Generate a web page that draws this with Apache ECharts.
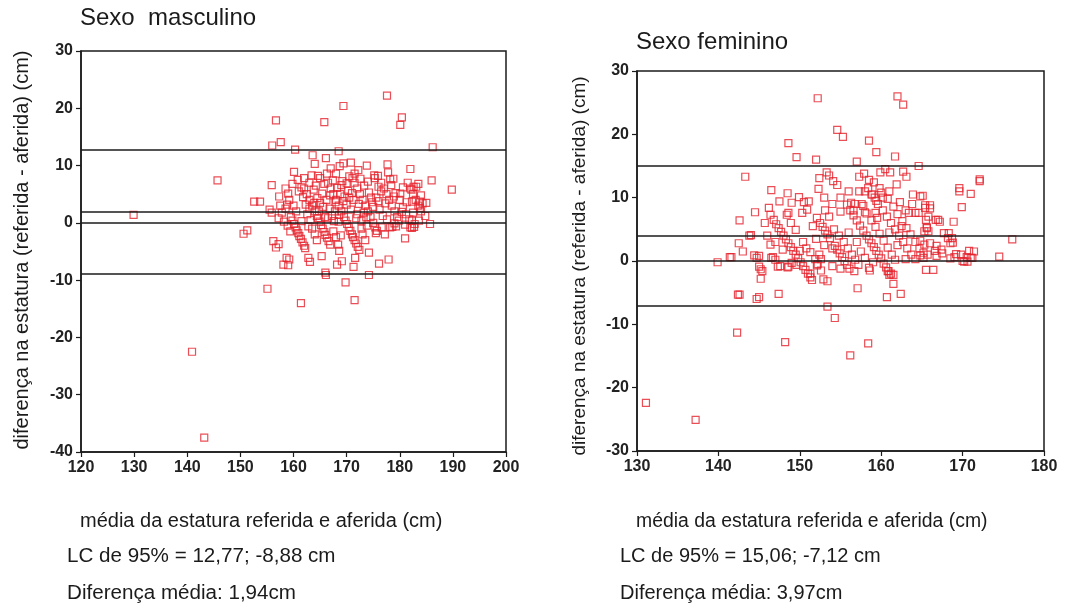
<!DOCTYPE html>
<html>
<head>
<meta charset="utf-8">
<script src="https://cdn.jsdelivr.net/npm/echarts@6/dist/echarts.min.js"></script>
<style>
  html, body { margin: 0; padding: 0; background: #fff; }
  #chart { width: 1066px; height: 607px; }
</style>
</head>
<body>
<div id="chart"></div>
<script>
// Bland-Altman: média (x) vs diferença referida - aferida (y), em cm
const malePoints = [
  [129.9,1.4],[140.9,-22.5],[143.2,-37.5],[145.7,7.4],[150.6,-1.9],[151.3,-1.3],[152.6,3.7],[153.7,3.7],
  [155.1,-11.5],[156.7,17.9],[165.8,17.6],[169.4,20.4],[177.6,22.2],[180.4,18.4],[180.1,17.1],[157.6,14.1],
  [156.0,13.5],[186.2,13.2],[160.3,12.8],[168.5,12.5],[163.6,11.8],[166.1,11.3],[177.7,10.2],[169.4,10.4],
  [168.7,9.9],[160.1,8.9],[172.2,9.2],[163.4,8.3],[164.6,8.2],[170.5,8.1],[171.1,7.8],[175.2,8.3],
  [175.3,7.8],[178.2,7.6],[186.0,7.4],[189.8,5.8],[155.9,6.6],[161.4,-14],[171.5,-13.5],[169.8,-10.4],
  [174.2,-9.1],[166.0,-8.7],[166.1,-9.1],[168.2,-7.3],[169.1,-6.7],[171.3,-7.7],[171.6,-6.1],[176.1,-7.1],
  [177.9,-6.4],[174.2,-5.2],[168.6,-4.9],[165.3,-5.8],[181.0,-2.7],[185.7,-0.2],[182.7,-0.7],[182.3,-0.9],
  [158.7,-6.1],[159.2,-6.4],[158.1,-7.3],[159.0,-7.4],[162.8,-6.1],[163.1,-6.8],[155.5,2.3],[155.9,1.8],
  [157.2,0.8],[156.2,-3.2],[157.2,-3.7],[156.7,-4.3],[157.3,4.6],
  [159.5,1.0],[159.8,0.4],[160.1,-0.2],[160.4,-0.8],[160.6,-1.3],[160.9,-1.8],[161.1,-2.3],[161.4,-2.8],
  [161.7,-3.4],[162.0,-4.0],[162.2,-4.4],
  [164.6,0.8],[164.9,0.2],[165.2,-0.4],[165.5,-1.0],[165.8,-1.6],[166.0,-2.1],[166.3,-2.6],[166.6,-3.2],
  [166.9,-3.8],[163.0,4.0],[162.5,5.0],[162.0,6.0],[163.5,3.0],[164.0,2.0],
  [169.5,1.0],[169.8,0.4],[170.1,-0.2],[170.4,-0.8],[170.7,-1.4],[171.0,-2.0],[171.2,-2.5],[171.5,-3.0],
  [171.8,-3.6],[172.1,-4.2],[172.4,-4.7],[166.5,7.0],[167.0,6.0],[167.5,5.0],[168.0,4.0],[168.5,3.0],[169.0,2.0],
  [171.5,7.0],[172.0,6.0],[172.5,5.0],[173.0,4.0],[173.5,3.0],[174.0,2.0],[174.5,1.0],[175.0,0.0],
  [175.4,-0.8],[175.7,-1.4],[175.5,-1.8],
  [175.9,8.2],[176.5,7.0],[177.0,6.0],[177.5,5.0],[178.0,4.0],[178.5,3.0],[179.0,2.0],[179.5,1.0],
  [179.8,0.4],[178.2,-0.8],[178.6,-0.7],[179.3,-0.6],
  [181.5,7.0],[182.0,6.0],[182.5,5.0],[183.0,4.0],[183.5,3.0],[184.0,2.0],[183.8,2.6],[182.2,5.8],[183.1,6.3],
  [158.5,2.5],[158.8,3.2],[159.2,4.0],[159.0,5.1],[160.0,3.0],[160.5,2.0],[161.0,5.5],[161.5,6.2],
  [161.8,4.5],[162.3,3.2],[162.6,1.5],[163.2,0.5],[163.8,5.8],[164.2,6.5],[164.5,4.3],[165.0,3.5],
  [165.4,5.1],[165.8,6.8],[166.2,4.0],[166.8,2.5],[167.2,1.2],[167.6,0.3],[167.9,3.6],[168.2,6.1],
  [168.8,5.0],[169.2,7.3],[169.6,4.6],[170.0,3.2],[170.3,5.6],[170.8,2.3],[171.3,4.0],[172.0,1.5],
  [172.8,0.4],[173.3,6.5],[173.7,1.0],[174.2,5.3],[174.8,3.6],[175.6,4.4],[176.2,2.3],[176.8,1.2],
  [177.3,3.4],[178.4,6.6],[179.2,5.2],[180.0,4.0],[180.6,2.7],[181.2,1.5],[181.8,0.6],[182.5,1.8],
  [183.6,0.4],[184.3,3.4],[184.8,1.2],[157.8,1.8],[158.2,0.2],[158.9,-0.5],[159.4,-1.5],[163.5,-1.0],
  [164.0,-2.0],[164.4,-3.0],[167.5,-1.5],[168.0,-2.5],[168.4,-3.8],[168.9,-2.2],[173.0,-2.0],[173.5,-3.0],
  [172.8,-1.0],[176.6,-0.8],[177.2,-2.0],[160.8,7.5],[162.0,7.8],[163.0,7.0],[165.0,7.8],[166.3,8.6],
  [167.4,7.4],[168.0,8.6],[169.0,6.6],[170.0,6.9],[171.5,8.6],[172.6,7.7],[174.0,7.2],[176.0,6.3],
  [177.8,8.8],[180.6,6.2],[181.3,3.6],[182.8,-0.2],[161.5,0.3],[162.8,-0.6],[166.5,0.8],[168.5,0.2],
  [171.8,0.8],[173.8,-0.5],[164.8,2.0],[166.0,1.0],[163.0,2.5],[175.0,2.8],[176.5,5.5],[179.0,-0.1],
  [181.0,-0.3],[184.0,4.8],[185.0,3.5],[158.5,6.0],[159.8,6.8],[157.5,3.0],[170.8,10.5],[164.0,10.3],
  [173.8,10.0],[167.0,9.5],[182.0,9.4],[178.8,7.7],[183.5,6.8],[182.6,6.3],[183.8,3.7],[182.3,3.7],
  [182.0,-0.8],[182.3,0.4],[180.1,5.1],
  [163.9,3.5],[164.4,1.2],[165.6,2.8],[166.9,4.8],[167.8,2.0],[168.6,1.4],[169.4,3.8],[170.5,4.4],
  [171.0,5.2],[172.3,3.3],[173.2,1.8],[174.6,4.4],[176.0,3.8],[177.6,0.6],[178.9,4.6],[180.4,1.9]
];

const femalePoints = [
  [131.1,-22.4],[137.2,-25.1],[139.9,-0.2],[141.4,0.6],[142.4,-5.3],[142.6,-5.3],[142.3,-11.3],[142.5,2.8],
  [143.0,1.5],[142.6,6.4],[143.8,4.0],[144.7,-6.0],[144.4,0.9],[144.7,0.5],[145.0,-0.9],[145.2,-1.3],
  [145.4,-1.6],[145.2,-2.8],[147.4,-5.2],[148.2,-12.8],[146.5,0.5],[147.3,-0.9],[146.4,2.6],[148.5,-1.0],
  [147.9,1.8],[153.4,-3.2],[153.4,-7.2],[154.3,-9.0],[156.2,-14.9],[158.4,-13.0],[157.1,-4.3],[156.7,-1.6],
  [158.5,-1.1],[158.6,-1.5],[160.7,-5.7],[161.5,-3.6],[162.4,-5.2],[160.8,-1.6],[161.0,-2.2],[165.5,-1.4],
  [166.4,-1.4],[168.5,0.4],[170.0,0.0],[170.5,0.6],[171.0,0.5],[170.8,1.6],[169.2,1.1],[174.5,0.7],
  [176.1,3.4],[168.9,6.2],[167.7,4.4],[168.2,3.6],[168.5,2.8],[166.6,1.6],[165.7,1.0],[165.3,4.7],
  [165.6,5.3],[165.5,6.5],[166.7,6.5],
  [152.2,25.7],[162.0,26.0],[162.7,24.7],[154.6,20.7],[155.3,19.6],[148.6,18.6],[158.5,19.0],[159.4,17.2],
  [149.6,16.4],[161.7,16.5],[152.0,16.0],[157.0,15.7],[164.6,15.0],[143.3,13.3],[153.3,14.0],[153.6,13.5],
  [152.4,13.1],[154.1,12.6],[154.6,12.0],[152.3,11.4],[157.3,13.3],[157.9,13.8],[158.5,12.8],[159.1,12.4],
  [159.9,14.0],[160.5,14.5],[161.1,14.0],[162.7,14.1],[163.1,13.3],[161.9,12.1],[159.8,11.5],[160.0,10.8],
  [160.2,10.0],[157.3,11.0],[158.0,11.0],[158.8,10.5],[159.2,10.0],[159.4,9.5],[169.6,11.5],[169.6,11.0],
  [171.0,10.6],[172.1,12.9],[172.1,12.6],[169.9,8.5],[163.9,10.5],[164.8,10.2],[165.4,8.8],[165.4,8.4],
  [146.5,11.2],[148.5,10.7],[149.9,10.1],[150.5,9.3],[151.1,9.4],[150.9,8.1],[150.3,7.6],[144.5,7.7],
  [148.6,7.6],[155.0,7.8],[156.3,9.2],[156.8,9.0],[156.6,8.0],[158.0,7.7],[159.3,7.6],
  [146.4,7.3],[146.8,6.5],[147.1,5.8],[147.4,5.2],[147.7,4.6],[148.0,4.0],[148.3,3.4],[148.6,2.8],
  [148.9,2.2],[149.2,1.6],[149.5,1.0],[149.8,0.4],[150.1,-0.2],[150.4,-0.8],[150.7,-1.4],[151.0,-2.0],
  [151.3,-2.6],[151.5,-3.0],[148.4,7.3],[148.9,6.0],[149.5,4.9],[150.4,3.0],[150.8,2.0],[151.3,1.4],
  [151.9,0.3],[152.1,-0.7],[151.3,-2.0],[144.0,4.1],[141.6,0.6],[145.0,0.8],[146.7,0.6],[147.0,0.2],
  [147.6,-0.8],[148.6,-0.9],[145.0,-5.7],
  [152.1,6.8],[152.5,6.0],[152.8,5.4],[153.1,4.8],[153.4,4.2],[153.7,3.6],[154.0,2.0],[154.3,2.4],
  [154.6,1.8],[154.9,1.2],[155.2,0.6],[155.5,0.0],[155.8,-0.6],[156.1,-1.2],[152.4,1.0],[152.6,0.3],
  [152.2,-0.5],[152.6,-1.5],[152.9,-2.9],[153.1,8.0],[153.6,7.0],[154.2,5.0],[154.8,4.0],[155.4,3.0],
  [155.9,2.0],[156.4,1.0],[156.8,0.2],[157.2,-0.6],
  [155.8,8.9],[156.2,8.0],[156.6,7.2],[157.0,6.4],[157.4,5.6],[157.8,4.8],[158.2,4.0],[158.5,3.4],
  [158.8,2.8],[159.1,2.2],[159.4,1.6],[159.7,1.0],[160.0,0.4],[160.3,-0.4],[160.6,-1.0],[160.9,-1.6],
  [161.2,-2.0],[161.5,-2.2],[157.6,9.0],[158.2,7.5],[158.8,6.4],[159.3,5.4],[159.8,4.3],[160.3,3.2],
  [160.8,2.1],[161.3,1.0],[161.7,0.2],
  [158.4,11.5],[158.9,10.5],[159.6,9.0],[160.2,8.0],[160.7,7.0],[161.2,6.0],[161.7,5.0],[162.2,4.0],
  [162.7,3.0],[163.2,2.0],[163.7,1.0],[164.2,0.3],[160.8,9.8],[161.5,8.6],[162.0,7.4],[162.6,6.3],
  [163.1,5.2],[163.6,4.2],[164.2,3.0],[164.7,2.0],[165.2,0.5],[162.3,9.3],[163.0,8.0],
  [153.0,10.0],[154.0,9.0],[155.0,10.0],[156.0,11.0],[157.8,8.7],[161.0,11.0],[163.8,9.0],[166.0,8.8],
  [166.0,8.3],[165.8,7.0],[167.0,6.5],[167.2,6.2],[165.6,5.2],[165.8,4.7],[168.3,4.4],[168.7,3.6],
  [168.8,2.9],[164.8,3.2],[165.3,2.6],[166.0,2.8],[166.8,2.4],[167.4,1.8],[165.2,1.3],[164.8,0.9],
  [166.8,0.8],[167.5,1.2],[169.0,0.6],[169.8,1.0],[170.2,-0.1],[170.6,-0.1],[171.2,0.5],[171.4,1.5],
  [163.4,7.6],[164.2,7.6],[164.6,7.6],[149.0,-0.3],[149.6,-0.6],[150.0,1.6],[153.0,2.5],[154.0,-0.8],
  [155.0,-1.2],[156.0,4.5],[157.0,3.0],[157.5,1.5],[158.0,0.5],[159.0,-0.2],[162.0,2.5],[163.0,0.3],
  [161.0,4.5],[159.5,6.8],[162.5,5.5],[146.0,4.0],[147.0,3.0],[145.7,6.0],[146.2,8.4],[147.5,9.4],
  [149.0,9.2],[151.6,5.5],[152.0,3.5],[165.1,10.3]
];

// Limites de concordância, diferença média e linha zero
const maleLines = [12.77, 1.94, 0, -8.88];
const femaleLines = [15.06, 3.97, 0, -7.12];

const maleXRange = [120, 200];
const maleYRange = [-40, 30];
const femaleXRange = [130, 180];
const femaleYRange = [-30, 30];
const tickStep = 10;

const titles = ['Sexo  masculino', 'Sexo feminino'];
const yTitle = 'diferença na estatura (referida - aferida) (cm)';
const xTitle = 'média da estatura referida e aferida (cm)';
const maleNotes = ['LC de 95% = 12,77; -8,88 cm', 'Diferença média: 1,94cm'];
const femaleNotes = ['LC de 95% = 15,06; -7,12 cm', 'Diferença média: 3,97cm'];

const INK = '#1b1b1b';
const RED = '#e5222c';
const FONT = 'Liberation Sans, Arial, sans-serif';

function axisX(idx, range) {
  return {
    type: 'value', gridIndex: idx, min: range[0], max: range[1], interval: tickStep,
    axisLine: { show: true, onZero: false, lineStyle: { color: INK, width: 1.5 } },
    axisTick: { show: true, length: 5, lineStyle: { color: INK, width: 1.2 } },
    axisLabel: { color: '#222', fontSize: 16, fontWeight: 'bold', fontFamily: FONT, margin: 8 },
    splitLine: { show: false }
  };
}
function axisY(idx, range) {
  return {
    type: 'value', gridIndex: idx, min: range[0], max: range[1], interval: tickStep,
    axisLine: { show: true, onZero: false, lineStyle: { color: INK, width: 1.5 } },
    axisTick: { show: true, length: 5, lineStyle: { color: INK, width: 1.2 } },
    axisLabel: { color: '#222', fontSize: 16, fontWeight: 'bold', fontFamily: FONT, margin: 8 },
    splitLine: { show: false }
  };
}
function scatter(idx, pts, lines) {
  return {
    type: 'scatter', xAxisIndex: idx, yAxisIndex: idx, data: pts,
    symbol: 'rect', symbolSize: 7,
    itemStyle: { color: 'rgba(255,255,255,0)', borderColor: RED, borderWidth: 1.2 },
    markLine: {
      silent: true, symbol: 'none', animation: false,
      label: { show: false },
      lineStyle: { color: INK, width: 1.5, type: 'solid' },
      data: lines.map(v => ({ yAxis: v }))
    },
    animation: false
  };
}

function text(x, y, str, size, extra) {
  return Object.assign({
    type: 'text', x: x, y: y,
    style: { text: str, fill: INK, font: size + 'px ' + FONT, textVerticalAlign: 'middle' }
  }, extra || {});
}
function vtext(x, y, str, size) {
  return {
    type: 'text', x: x, y: y, rotation: Math.PI / 2,
    style: { text: str, fill: INK, font: size + 'px ' + FONT, textAlign: 'center', textVerticalAlign: 'middle' }
  };
}

const chart = echarts.init(document.getElementById('chart'), null, { renderer: 'canvas' });
chart.setOption({
  backgroundColor: '#fff',
  animation: false,
  grid: [
    { left: 81, top: 51, width: 425, height: 401, show: true, borderColor: INK, borderWidth: 1.5, backgroundColor: 'transparent' },
    { left: 637, top: 71, width: 407, height: 380, show: true, borderColor: INK, borderWidth: 1.5, backgroundColor: 'transparent' }
  ],
  xAxis: [axisX(0, maleXRange), axisX(1, femaleXRange)],
  yAxis: [axisY(0, maleYRange), axisY(1, femaleYRange)],
  series: [scatter(0, malePoints, maleLines), scatter(1, femalePoints, femaleLines)],
  graphic: [
    text(80, 18, titles[0], 24),
    text(636, 42, titles[1], 24),
    vtext(22, 250, yTitle, 20),
    vtext(580, 266, yTitle, 19),
    text(80, 521, xTitle, 20, { scaleX: 1.0 }),
    text(67, 556, maleNotes[0], 20, { scaleX: 1.03 }),
    text(67, 593, maleNotes[1], 20, { scaleX: 1.03 }),
    text(636, 521, xTitle, 20, { scaleX: 0.97 }),
    text(620, 556, femaleNotes[0], 20, { scaleX: 1.0 }),
    text(620, 593, femaleNotes[1], 20, { scaleX: 1.0 })
  ]
});
</script>
</body>
</html>
